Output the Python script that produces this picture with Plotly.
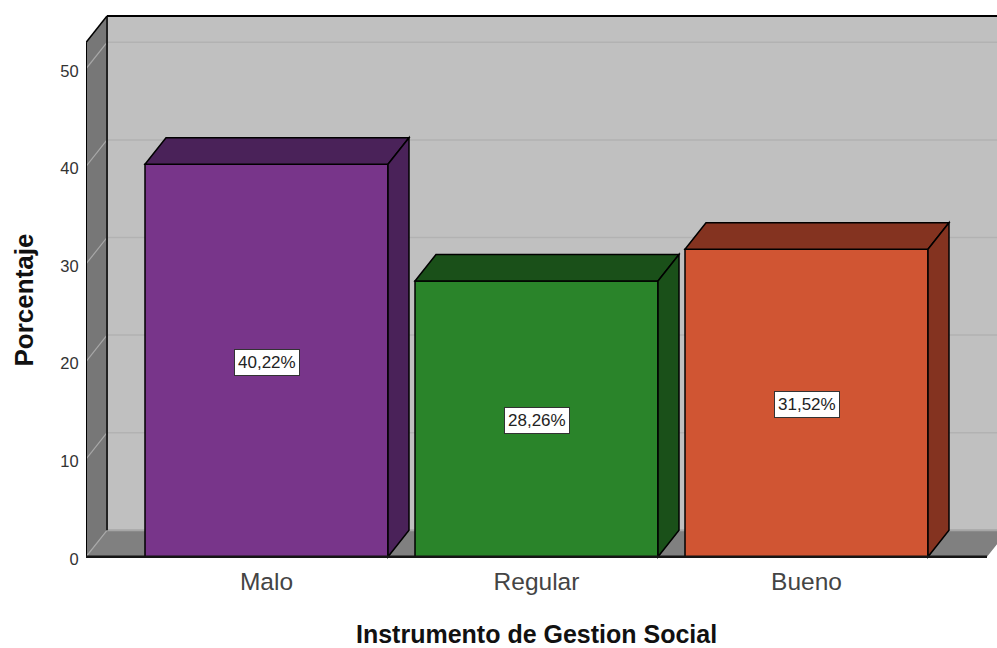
import plotly.graph_objects as go

# Chart data
categories = ["Malo", "Regular", "Bueno"]
percentages = [40.22, 28.26, 31.52]
y_ticks = [0, 10, 20, 30, 40, 50]
x_positions = [0, 1, 2]

# Bar colours: front face and shaded top/side faces
front_colors = ["#78358a", "#2a842a", "#d05533"]
shade_colors = ["#4a2259", "#1a5019", "#843320"]

# Scale of the drawing, in pixels per data unit
PX_PER_X = 270.0
PX_PER_Y = 9.76
WIDTH, HEIGHT = 997, 648
LEFT, ZERO_PX, BOTTOM = 86, 556.8, 559

# Oblique depth of the box, in data units
DX = 21.0 / PX_PER_X
DY = 26.5 / PX_PER_Y
BAR_W = 0.9

x0 = 266.5
x_min = (LEFT - x0) / PX_PER_X
x_max = (WIDTH - x0) / PX_PER_X
x_front_end = (987 - x0) / PX_PER_X
y_min = -(BOTTOM - ZERO_PX) / PX_PER_Y
y_max = ZERO_PX / PX_PER_Y
box_top = (ZERO_PX - 42.5) / PX_PER_Y


def poly(points):
    return "M " + " L ".join(f"{a:.5f},{b:.5f}" for a, b in points) + " Z"


def face(points, fill, line="black", width=1.5, layer="below"):
    return dict(type="path", path=poly(points), xref="x", yref="y", fillcolor=fill,
                line=dict(color=line, width=width), layer=layer)


def segment(x1, y1, x2, y2, color, width, layer="below"):
    return dict(type="line", x0=x1, y0=y1, x1=x2, y1=y2, xref="x", yref="y",
                line=dict(color=color, width=width), layer=layer)


shapes = []
# Back wall
shapes.append(face([(x_min + DX, DY), (x_max + 1, DY), (x_max + 1, box_top + DY), (x_min + DX, box_top + DY)],
                   "#c0c0c0", line="rgba(0,0,0,0)", width=0))
# Left wall
shapes.append(face([(x_min, 0), (x_min + DX, DY), (x_min + DX, box_top + DY), (x_min, box_top)],
                   "#777777", line="rgba(0,0,0,0)", width=0))
# Floor
shapes.append(face([(x_min, 0), (x_min + DX, DY), (x_max + 1, DY), (x_front_end + DX, DY), (x_front_end, 0)],
                   "#808080", line="rgba(0,0,0,0)", width=0))

# Gridlines across the back wall and up the left wall
for t in y_ticks:
    if t > 0:
        shapes.append(segment(x_min + DX, t + DY, x_max, t + DY, "#b2b2b2", 1.5))
    else:
        shapes.append(segment(x_min + DX, DY, x_max, DY, "#a6a6a6", 2))
    shapes.append(segment(x_min, t, x_min + DX, t + DY, "#a8a8a8", 1.2))

# Box edges
shapes.append(segment(x_min + DX, DY, x_min + DX, box_top + DY, "#222222", 2))
shapes.append(segment(x_min, 0, x_min, box_top, "black", 2))
shapes.append(segment(x_min, box_top, x_min + DX, box_top + DY, "black", 1.5))
shapes.append(segment(x_min + DX, box_top + DY, x_max, box_top + DY, "black", 2))

# Shaded top and side faces of each bar, offset from its value
for x, v, shade in zip(x_positions, percentages, shade_colors):
    l, r = x - BAR_W / 2, x + BAR_W / 2
    shapes.append(face([(l, v), (l + DX, v + DY), (r + DX, v + DY), (r, v)], shade, layer="above"))
    shapes.append(face([(r, v), (r + DX, v + DY), (r + DX, DY), (r, 0)], shade, layer="above"))

# Front edge of the floor
shapes.append(segment(x_min, 0, x_front_end, 0, "#151515", 2.5, layer="above"))

fig = go.Figure(go.Bar(
    x=x_positions, y=percentages, width=BAR_W,
    marker=dict(color=front_colors, line=dict(color="black", width=1.5)),
    hoverinfo="skip",
))

annotations = [
    dict(x=x, y=v / 2, xref="x", yref="y", yshift=-2,
         text=f"{v:.2f}%".replace(".", ","), showarrow=False,
         font=dict(family="Liberation Sans", size=17, color="#222222"),
         bgcolor="white", bordercolor="#333333", borderwidth=1, borderpad=3)
    for x, v in zip(x_positions, percentages)
]

# Axis titles, placed on the box rather than on the whole plotting area
title_font = dict(family="Liberation Sans", size=25, color="#111111")
annotations.append(dict(
    x=1, y=0, xref="x", yref="paper", yanchor="middle", yshift=-(633.5 - BOTTOM),
    text="<b>Instrumento de Gestion Social</b>", showarrow=False, font=title_font, borderpad=0,
))
annotations.append(dict(
    x=0, y=0.5, xref="paper", yref="paper", xanchor="center", yanchor="middle",
    xshift=23 - LEFT, yshift=(BOTTOM / 2) - 300.5,
    text="<b>Porcentaje</b>", textangle=-90, showarrow=False,
    font=dict(family="Liberation Sans", size=26, color="#111111"),
))

fig.update_layout(
    width=WIDTH, height=HEIGHT, autosize=False,
    margin=dict(l=LEFT, r=0, t=0, b=HEIGHT - BOTTOM),
    paper_bgcolor="white", plot_bgcolor="white",
    showlegend=False, shapes=shapes, annotations=annotations,
    font=dict(family="Liberation Sans", color="#333333"),
    xaxis=dict(
        range=[x_min, x_max], tickmode="array", tickvals=x_positions, ticktext=categories,
        showgrid=False, zeroline=False, showline=False,
        ticks="outside", ticklen=1, tickcolor="rgba(0,0,0,0)",
        tickfont=dict(size=24.5, color="#444444"),
    ),
    yaxis=dict(
        range=[y_min, y_max], tickmode="array", tickvals=y_ticks,
        showgrid=False, zeroline=False, showline=False,
        ticks="outside", ticklen=3, tickcolor="rgba(0,0,0,0)",
        ticklabelshift=2,
        tickfont=dict(size=16.5, color="#333333"),
    ),
)

fig.write_html("out.html")
